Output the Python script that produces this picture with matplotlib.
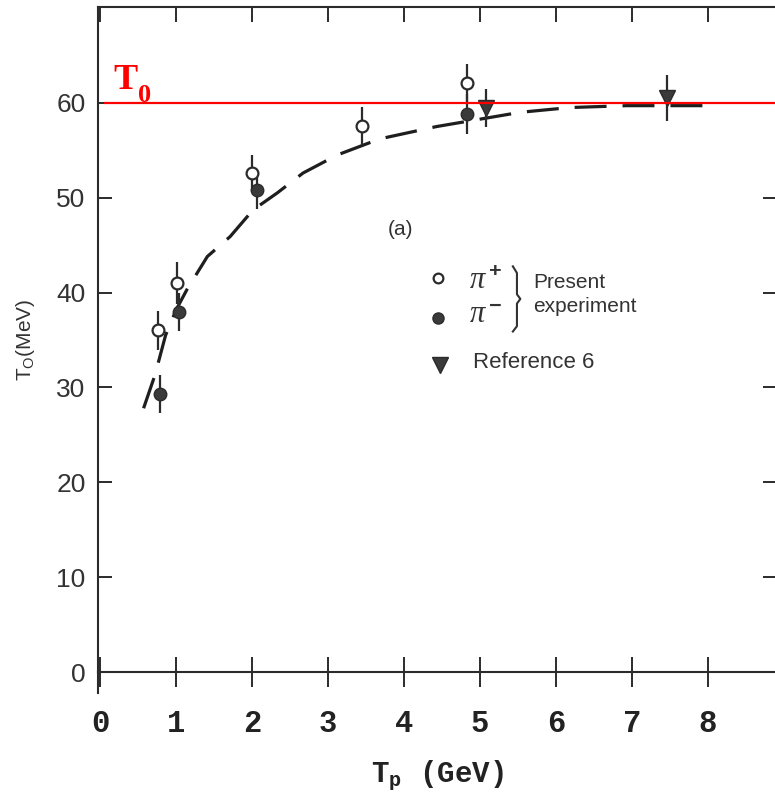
import matplotlib
matplotlib.use("Agg")
import matplotlib.pyplot as plt
from matplotlib.lines import Line2D

plt.rcParams["mathtext.fontset"] = "custom"
plt.rcParams["mathtext.rm"] = "Liberation Mono:bold"
plt.rcParams["mathtext.sf"] = "Liberation Sans"
plt.rcParams["mathtext.it"] = "Liberation Serif:italic"

# present experiment, pi+ (open) and pi- (filled)
tp_pip = [0.76, 1.01, 2.00, 3.45, 4.83]
t0_pip = [36.0, 41.0, 52.6, 57.6, 62.1]
err_pip = [2.1, 2.2, 1.9, 2.0, 2.0]

tp_pim = [0.79, 1.03, 2.06, 4.83]
t0_pim = [29.3, 37.9, 50.8, 58.8]
err_pim = [2.0, 2.0, 2.0, 2.1]

# Reference 6
tp_ref = [5.08, 7.46]
t0_ref = [59.5, 60.5]
err_ref = [2.0, 2.4]

# dashed curve through the points
tp_fit = [0.57, 0.72, 0.86, 1.00, 1.14, 1.41, 1.71, 2.01, 2.33, 2.67, 3.12,
          3.68, 4.43, 5.53, 6.18, 6.93, 7.85, 8.07]
t0_fit = [27.8, 31.3, 35.5, 38.2, 40.3, 43.8, 45.9, 48.7, 50.5, 52.6, 54.5,
          56.2, 57.5, 59.0, 59.5, 59.7, 59.7, 59.7]

t0_limit = 60

ink = "#2b2b2b"

fig = plt.figure(figsize=(7.75, 7.98), dpi=100)
ax = fig.add_axes([98 / 775, 126 / 798, 679 / 775, 665 / 798])
ax.set_xlim(-0.03, 8.91)
ax.set_ylim(0, 70.1)

for s in ax.spines.values():
    s.set_color(ink)
    s.set_linewidth(1.5)

ax.set_xticks(range(0, 9))
ax.set_yticks(range(0, 70, 10))
ax.tick_params(axis="x", direction="inout", length=22, width=1.4, color=ink,
               top=True, pad=16, labelsize=22, labelcolor="#222")
ax.tick_params(axis="y", direction="in", length=10, width=1.4, color=ink,
               right=True, pad=9, labelsize=19, labelcolor="#333")
for lab in ax.get_xticklabels():
    lab.set_fontfamily("Liberation Mono")
    lab.set_fontweight("bold")
for lab in ax.get_yticklabels():
    lab.set_fontfamily("Liberation Sans")

# top ticks point inward only
for t in ax.xaxis.get_major_ticks():
    t.tick2line.set_marker(matplotlib.markers.TICKDOWN)
    t.tick2line.set_markersize(11)

# left spine runs a little below the bottom axis
ax.plot([0, 0], [0, -0.032], transform=ax.transAxes, color=ink, lw=1.5,
        clip_on=False)

ax.plot(tp_fit, t0_fit, color="#1e1e1e", lw=2.3, dashes=(10, 5))

ax.axhline(t0_limit, xmin=0.01, color="red", lw=1.6, zorder=5)

ax.errorbar(tp_pip, t0_pip, yerr=err_pip, fmt="o", ms=8.5, mfc="white",
            mec=ink, mew=1.6, ecolor=ink, elinewidth=1.6, capsize=0, zorder=4)
ax.errorbar(tp_pim, t0_pim, yerr=err_pim, fmt="o", ms=9, mfc="#3a3a3a",
            mec=ink, mew=1.0, ecolor=ink, elinewidth=1.6, capsize=0, zorder=4)
ax.errorbar(tp_ref, t0_ref, yerr=err_ref, fmt="v", ms=12, mfc="#3a3a3a",
            mec=ink, mew=1.0, ecolor=ink, elinewidth=1.6, capsize=0, zorder=4)

ax.text(0.022, 0.877, "T", transform=ax.transAxes, color="red",
        family="Liberation Serif", weight="bold", fontsize=26, va="baseline")
ax.text(0.059, 0.857, "0", transform=ax.transAxes, color="red",
        family="Liberation Serif", weight="bold", fontsize=19, va="baseline")

# key
ax.text(0.427, 0.665, "(a)", transform=ax.transAxes, family="Liberation Sans",
        fontsize=15, color="#333", va="center")
ax.plot([0.501], [0.592], "o", ms=7, mfc="white", mec=ink, mew=1.6,
        transform=ax.transAxes)
ax.plot([0.501], [0.532], "o", ms=8, mfc="#3a3a3a", mec=ink,
        transform=ax.transAxes)
ax.plot([0.504], [0.462], "v", ms=11, mfc="#3a3a3a", mec=ink,
        transform=ax.transAxes)
ax.text(0.546, 0.588, r"$\pi^+$", transform=ax.transAxes, fontsize=22,
        color="#333", va="center")
ax.text(0.546, 0.538, r"$\pi^-$", transform=ax.transAxes, fontsize=22,
        color="#333", va="center")
ax.text(0.641, 0.585, "Present", transform=ax.transAxes,
        family="Liberation Sans", fontsize=15, color="#333", va="center")
ax.text(0.641, 0.549, "experiment", transform=ax.transAxes,
        family="Liberation Sans", fontsize=15, color="#333", va="center")
ax.text(0.552, 0.465, "Reference 6", transform=ax.transAxes,
        family="Liberation Sans", fontsize=16, color="#333", va="center")
brace = Line2D([0.611, 0.617, 0.617, 0.622, 0.617, 0.617, 0.611],
               [0.610, 0.600, 0.568, 0.561, 0.554, 0.520, 0.512],
               transform=ax.transAxes, color="#333", lw=1.5)
ax.add_line(brace)

ax.set_xlabel(r"T$_{\mathrm{p}}$ (GeV)", family="Liberation Mono",
              weight="bold", fontsize=21, color="#222", labelpad=14)
ax.set_ylabel(r"T$_{\mathsf{O}}$(MeV)", family="Liberation Sans",
              fontsize=15, color="#333", labelpad=14)

fig.savefig("out.png", dpi=100)
